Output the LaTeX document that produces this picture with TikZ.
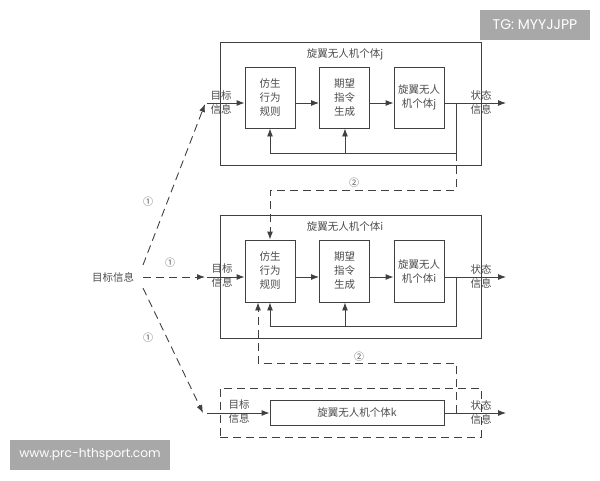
\documentclass[tikz,border=0pt]{standalone}
\usepackage{fontspec}
\usetikzlibrary{arrows.meta}
\setmainfont{Noto Sans CJK SC}
\newfontfamily\markfont{Poppins}
\tikzset{
  linecol/.style={draw=black!75,line width=.9pt},
  blockbox/.style={linecol,fill=white,inner sep=0pt,align=center,font=\fontsize{10.5}{14}\selectfont,text=black!70},
  outerbox/.style={linecol,inner sep=0pt,minimum width=261pt},
  lab/.style={inner sep=0pt,align=center,font=\fontsize{10.5}{14}\selectfont,text=black!70},
  marklab/.style={inner sep=0pt,font=\fontsize{10}{12}\selectfont,text=black!65},
  flow/.style={linecol,->},
  dashline/.style={linecol,dash pattern=on 8pt off 5pt},
  tagbox/.style={fill=black!34,text=white,inner sep=0pt,font=\markfont\fontsize{12.2}{14}\selectfont}
}
\begin{document}
\begin{tikzpicture}[>={Latex[length=8pt,width=6pt]}, x=1pt, y=-1pt]
\useasboundingbox (0,0) rectangle (600,480);

% outer frames
\node[outerbox,minimum height=123pt] (framej) at (350.5,103.5) {};
\node[outerbox,minimum height=123pt] (framei) at (350.5,276.5) {};
\node[outerbox,minimum height=49pt,dashline] (framek) at (350.5,412.5) {};

% group j
\node[lab] at (345,54) {旋翼无人机个体j};
\node[blockbox,minimum width=50pt,minimum height=61pt] (rulej) at (270,97.5) {仿生\\行为\\规则};
\node[blockbox,minimum width=50pt,minimum height=61pt] (cmdj) at (344.5,97.5) {期望\\指令\\生成};
\node[blockbox,minimum width=50pt,minimum height=61pt] (uavj) at (419,97.5) {旋翼无人\\机个体j};
\coordinate (inj) at (207,103);
\coordinate (outj) at (506,103);
\coordinate (tapj) at (456,103);
\coordinate (backj) at (456,153);
\coordinate (midj) at (345,153);
\coordinate (leftj) at (270,153);
\draw[flow] (inj) -- (inj -| rulej.west);
\draw[flow] (inj -| rulej.east) -- (inj -| cmdj.west);
\draw[flow] (inj -| cmdj.east) -- (inj -| uavj.west);
\draw[flow] (inj -| uavj.east) -- (outj);
\draw[linecol] (tapj) -- (backj) -- (midj);
\draw[flow] (midj) -- (midj |- cmdj.south);
\draw[flow] (midj) -- (leftj) -- (rulej.south);
\node[lab] at (221,103) {目标\\信息};
\node[lab] at (481,103) {状态\\信息};

% group i
\node[lab] at (345,227) {旋翼无人机个体i};
\node[blockbox,minimum width=50pt,minimum height=62pt] (rulei) at (270,271) {仿生\\行为\\规则};
\node[blockbox,minimum width=50pt,minimum height=62pt] (cmdi) at (344.5,271) {期望\\指令\\生成};
\node[blockbox,minimum width=50pt,minimum height=62pt] (uavi) at (419,271) {旋翼无人\\机个体i};
\coordinate (ini) at (207,277);
\coordinate (outi) at (506,277);
\coordinate (tapi) at (456,277);
\coordinate (backi) at (456,326);
\coordinate (midi) at (345,326);
\coordinate (lefti) at (270,326);
\draw[flow] (ini) -- (ini -| rulei.west);
\draw[flow] (ini -| rulei.east) -- (ini -| cmdi.west);
\draw[flow] (ini -| cmdi.east) -- (ini -| uavi.west);
\draw[flow] (ini -| uavi.east) -- (outi);
\draw[linecol] (tapi) -- (backi) -- (midi);
\draw[flow] (midi) -- (midi |- cmdi.south);
\draw[flow] (midi) -- (lefti) -- (rulei.south);
\node[lab] at (222,276) {目标\\信息};
\node[lab] at (481,276) {状态\\信息};

% group k
\node[blockbox,minimum width=174pt,minimum height=25pt] (uavk) at (357,412.5) {旋翼无人机个体k};
\coordinate (ink) at (207,413);
\coordinate (outk) at (506,413);
\coordinate (tapk) at (456,413);
\draw[flow] (ink) -- (ink -| uavk.west);
\draw[flow] (ink -| uavk.east) -- (outk);
\node[lab] at (239,412) {目标\\信息};
\node[lab] at (481,412) {状态\\信息};

% links between the groups
\coordinate (bendj) at (456,190);
\coordinate (bendr) at (270,190);
\draw[dashline,->] (backj) -- (bendj) -- (bendr) -- (rulei.north);
\coordinate (bendk) at (456,363);
\coordinate (bendl) at (258,363);
\draw[dashline,->] (tapk) -- (bendk) -- (bendl) -- (bendl |- rulei.south);
\node[marklab] at (354,183) {②};
\node[marklab] at (359,357) {②};

% target information
\node[lab] (target) at (113,277) {目标信息};
\coordinate (fromj) at (143,265);
\coordinate (fromi) at (143,277);
\coordinate (fromk) at (143,288);
\coordinate (toj) at (205,104);
\coordinate (toi) at (205,277);
\coordinate (tok) at (203,413);
\draw[dashline,->] (fromj) -- (toj);
\draw[dashline,->] (fromi) -- (toi);
\draw[dashline,->] (fromk) -- (tok);
\node[marklab] at (148,202) {①};
\node[marklab] at (170,263) {①};
\node[marklab] at (148,338) {①};

% tags
\node[tagbox,minimum width=110pt,minimum height=30pt,font=\markfont\fontsize{14}{16}\selectfont] (tagtg) at (535,25) {TG: MYYJJPP};
\node[tagbox,minimum width=160pt,minimum height=30pt] (tagweb) at (90,455) {www.prc-hthsport.com};
\end{tikzpicture}
\end{document}
